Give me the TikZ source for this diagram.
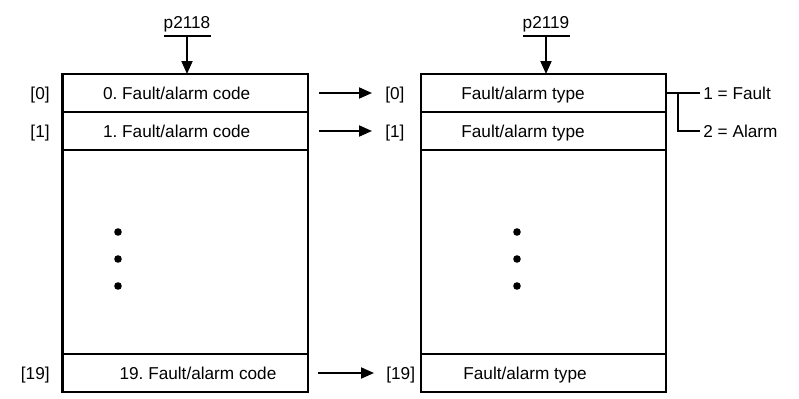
\documentclass[tikz,border=0pt]{standalone}
\usepackage{fontspec}
\setmainfont{Liberation Sans}
\usetikzlibrary{arrows.meta}
\frenchspacing
\begin{document}
\begin{tikzpicture}[x=0.5pt,y=-0.5pt,
  font=\fontsize{8.6}{10}\selectfont,
  lrow/.style={draw, line width=1.05pt, minimum width=122.75pt, inner sep=0pt, outer sep=0pt, anchor=north west},
  rrow/.style={draw, line width=1.05pt, minimum width=122.5pt, inner sep=0pt, outer sep=0pt, anchor=north west},
  txt/.style={inner sep=0pt, anchor=base},
  arr/.style={line width=0.95pt, -{Triangle[length=6.5pt,width=5.5pt]}},
  thin/.style={line width=0.9pt},
  dot/.style={circle, fill, inner sep=0pt, minimum size=3.8pt}]
\useasboundingbox (0,0) rectangle (799,398);
% left table
\node[lrow, minimum height=19pt] (L0) at (62.5,74) {};
\node[lrow, minimum height=19pt] (L1) at (62.5,112) {};
\node[lrow, minimum height=102pt] (Lm) at (62.5,150) {};
\node[lrow, minimum height=19pt] (L19) at (62.5,354) {};
% right table
\node[rrow, minimum height=19pt] (R0) at (421,74) {};
\node[rrow, minimum height=19pt] (R1) at (421,112) {};
\node[rrow, minimum height=102pt] (Rm) at (421,150) {};
\node[rrow, minimum height=19pt] (R19) at (421,354) {};
% texts left
\node[txt] (tl0) at (176.7,99) {0. Fault/alarm code};
\node[txt] (tl1) at (176.7,137) {1. Fault/alarm code};
\node[txt] (tl19) at (198,379) {19. Fault/alarm code};
% texts right
\node[txt, anchor=base west] (tr0) at (461,99) {Fault/alarm type};
\node[txt, anchor=base west] (tr1) at (461,137) {Fault/alarm type};
\node[txt, anchor=base west] (tr19) at (463,379) {Fault/alarm type};
% index labels
\node[txt, anchor=base east] (il0) at (50,99) {[0]};
\node[txt, anchor=base east] (il1) at (50,137) {[1]};
\node[txt, anchor=base east] (il19) at (50,379) {[19]};
\node[txt, anchor=base west] (ir0) at (385,99) {[0]};
\node[txt, anchor=base west] (ir1) at (385,137) {[1]};
\node[txt, anchor=base west] (ir19) at (386,379) {[19]};
% arrows between tables
\draw[arr] ([xshift=5.5pt]L0.east) -- ([xshift=-6.5pt]ir0.west |- L0.east);
\draw[arr] ([xshift=5.5pt]L1.east) -- ([xshift=-6.5pt]ir1.west |- L1.east);
\draw[arr] ([xshift=5pt]L19.east) -- ([xshift=-6pt]ir19.west |- L19.east);
% parameters on top
\node[txt] (p1) at (187,28) {p2118};
\node[txt] (p2) at (546,28) {p2119};
\coordinate (u1a) at (163.5,36);
\coordinate (u1b) at (210.5,36);
\coordinate (t1) at (187,36);
\coordinate (u2a) at (523,36);
\coordinate (u2b) at (569.5,36);
\coordinate (t2) at (546,36);
\draw[thin] (u1a) -- (u1b);
\draw[thin] (u2a) -- (u2b);
\draw[arr] (t1) -- (t1 |- L0.north);
\draw[arr] (t2) -- (t2 |- R0.north);
% fault / alarm legend
\node[txt, anchor=base west] (f1) at (703,99) {1 = Fault};
\node[txt, anchor=base west] (f2) at (703,137) {2 = Alarm};
\coordinate (br) at (678,93);
\coordinate (e2) at (700,131);
\draw[thin] (R0.east) -- ([xshift=-1.5pt]f1.west |- R0.east);
\draw[thin] (br) |- (e2);
% dots
\node[dot] (dl1) at (118,232) {};
\node[dot] (dl2) at (118,259) {};
\node[dot] (dl3) at (118,286) {};
\node[dot] (dr1) at (517,232) {};
\node[dot] (dr2) at (517,259) {};
\node[dot] (dr3) at (517,286) {};
\end{tikzpicture}
\end{document}
